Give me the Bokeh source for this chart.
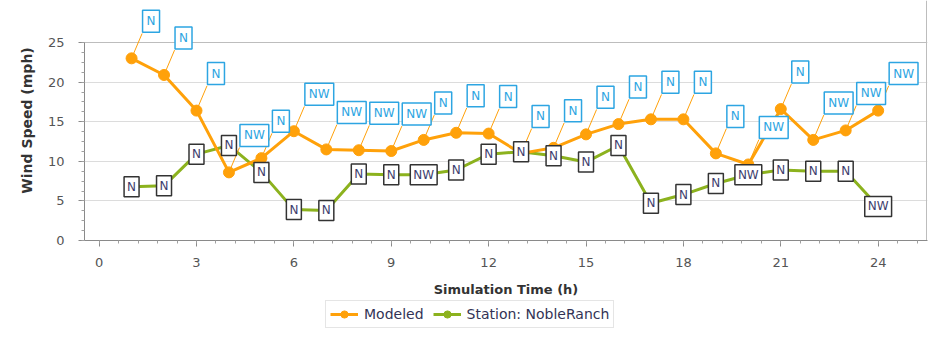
from bokeh.plotting import figure
from bokeh.layouts import column
from bokeh.models import (ColumnDataSource, Legend, LegendItem, Range1d, FixedTicker, Grid)
from bokeh.core.properties import value
from bokeh.embed import file_html
from bokeh.resources import INLINE

hours = list(range(1, 25))
modeled = [23.0, 20.9, 16.4, 8.6, 10.4, 13.8, 11.5, 11.4, 11.3, 12.7, 13.6, 13.5,
           11.0, 11.7, 13.4, 14.7, 15.3, 15.3, 11.0, 9.6, 16.6, 12.7, 13.9, 16.4]
modeled_dir = ["N", "N", "N", "NW", "N", "NW", "NW", "NW", "NW", "N", "N", "N",
               "N", "N", "N", "N", "N", "N", "N", "NW", "N", "NW", "NW", "NW"]
station = [6.8, 6.9, 10.9, 12.0, 8.6, 3.9, 3.8, 8.4, 8.3, 8.3, 8.9, 10.9,
           11.2, 10.7, 9.9, 12.0, 4.7, 5.8, 7.2, 8.3, 8.9, 8.75, 8.75, 4.3]
station_dir = ["N", "N", "N", "N", "N", "N", "N", "N", "N", "NW", "N", "N",
               "N", "N", "N", "N", "N", "N", "N", "NW", "N", "N", "N", "NW"]
x_ticks = [0, 3, 6, 9, 12, 15, 18, 21, 24]
y_ticks = [0, 5, 10, 15, 20, 25]
x_min, x_max = -0.45, 25.5
y_min, y_max = 0, 25

ORANGE = "#FFA10A"
GREEN = "#8CB21E"
LBLUE = "#2DA5E2"
FONT = "DejaVu Sans"

src_m = ColumnDataSource(dict(x=hours, y=modeled, d=modeled_dir))
src_s = ColumnDataSource(dict(x=hours, y=station, d=station_dir))

# plot box 198px tall for 0..25; frame extends 42px above it for the labels
frame_h = 240
y_top = y_max * frame_h / 198.0

p = figure(width=931, height=300, output_backend="svg", toolbar_location=None,
           x_range=Range1d(x_min, x_max + 0.02), y_range=Range1d(y_min, y_top),
           min_border_left=84, min_border_right=4, min_border_top=0, min_border_bottom=60)
p.background_fill_color = "white"
p.border_fill_color = "white"
p.outline_line_color = None

p.xgrid.grid_line_color = None
p.ygrid.grid_line_color = "#DCDCDC"
p.ygrid.ticker = FixedTicker(ticks=y_ticks[:-1])
top_grid = Grid(dimension=1, ticker=FixedTicker(ticks=[y_max]), grid_line_color="#BDBDBD",
                bounds=(x_min, x_max))
right_grid = Grid(dimension=0, ticker=FixedTicker(ticks=[x_max]), grid_line_color="#BDBDBD",
                  bounds=(y_min, y_max))
p.add_layout(top_grid)
p.add_layout(right_grid)

for ax in (p.xaxis[0], p.yaxis[0]):
    ax.axis_line_color = "#8A8A8A"
    ax.major_tick_line_color = "#8A8A8A"
    ax.minor_tick_line_color = "#A0A0A0"
    ax.major_tick_in = 0
    ax.major_tick_out = 6
    ax.minor_tick_in = 0
    ax.minor_tick_out = 3
    ax.major_label_text_font = FONT
    ax.major_label_text_font_size = "13px"
    ax.major_label_text_color = "#555555"
    ax.axis_label_text_font = FONT
    ax.axis_label_text_font_size = "13px"
    ax.axis_label_text_font_style = "bold"
    ax.axis_label_text_color = "#333333"

p.yaxis.axis_label_text_font_size = "14px"
p.xaxis.ticker = FixedTicker(ticks=x_ticks, minor_ticks=[i * 0.6 for i in range(0, 43)])
p.yaxis.ticker = FixedTicker(ticks=y_ticks, minor_ticks=[i * 1.25 for i in range(0, 21)])
p.yaxis.bounds = (y_min, y_max)
p.xaxis.axis_label = "Simulation Time (h)"
p.yaxis.axis_label = "Wind Speed (mph)"
p.xaxis.major_label_standoff = 11
p.yaxis.major_label_standoff = 14
p.xaxis.axis_label_standoff = 12
p.yaxis.axis_label_standoff = 10

# station series
p.line("x", "y", source=src_s, line_color=GREEN, line_width=3)
p.scatter("x", "y", source=src_s, size=9, fill_color=GREEN, line_color=GREEN)

# modeled series
p.line("x", "y", source=src_m, line_color=ORANGE, line_width=3)
p.scatter("x", "y", source=src_m, size=11, fill_color=ORANGE, line_color=ORANGE)

# leader lines for modeled labels
p.ray("x", "y", source=src_m, length=27, angle=67, angle_units="deg",
      length_units="screen", line_color=ORANGE, line_width=1)

# modeled direction labels
p.text("x", "y", text="d", source=src_m, x_offset=11, y_offset=-26,
       anchor="bottom_left", text_font=value(FONT), text_font_size="12px",
       text_color=LBLUE, background_fill_color="white",
       border_line_color=LBLUE, border_line_width=1.5, padding=4)

# station direction labels
p.text("x", "y", text="d", source=src_s, anchor="center",
       text_font=value(FONT), text_font_size="12px",
       text_color="#3E3E6E", background_fill_color="white",
       border_line_color="#333333", border_line_width=1.5, padding=3)

# legend strip (its own small figure, series drawn outside its view)
lg = figure(width=931, height=28, output_backend="svg", toolbar_location=None,
            x_range=Range1d(0, 1), y_range=Range1d(100, 101),
            x_axis_location=None, y_axis_location=None,
            min_border_left=0, min_border_right=0, min_border_top=0, min_border_bottom=0)
lg.outline_line_color = None
lg.xgrid.grid_line_color = None
lg.ygrid.grid_line_color = None
l_m = lg.line("x", "y", source=src_m, line_color=ORANGE, line_width=3)
s_m = lg.scatter("x", "y", source=src_m, size=11, fill_color=ORANGE, line_color=ORANGE)
l_s = lg.line("x", "y", source=src_s, line_color=GREEN, line_width=3)
s_s = lg.scatter("x", "y", source=src_s, size=11, fill_color=GREEN, line_color=GREEN)

legend = Legend(items=[LegendItem(label="Modeled", renderers=[l_m, s_m]),
                       LegendItem(label="Station: NobleRanch", renderers=[l_s, s_s])],
                orientation="horizontal", location=(241, 0))
legend.label_text_font = FONT
legend.label_text_font_size = "14px"
legend.label_text_color = "#333355"
legend.border_line_color = "#CCCCCC"
legend.glyph_width = 28
legend.glyph_height = 18
legend.padding = 4
legend.spacing = 9
legend.margin = 0
legend.label_standoff = 6
lg.add_layout(legend, "center")

layout = column(p, lg, spacing=0)
open("out.html", "w").write(file_html(layout, INLINE))
